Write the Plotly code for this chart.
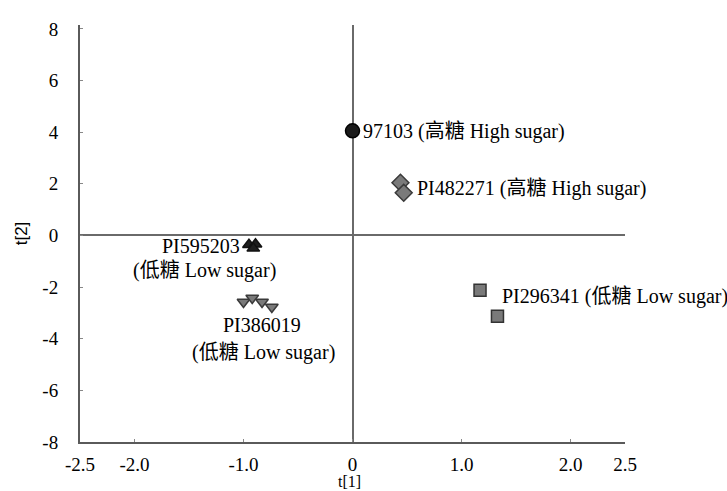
import plotly.graph_objects as go

# ---- data ----
t1_97103 = [0.0]
t2_97103 = [4.05]
t1_PI482271 = [0.44, 0.47]
t2_PI482271 = [2.04, 1.65]
t1_PI296341 = [1.17, 1.33]
t2_PI296341 = [-2.12, -3.13]
t1_PI595203 = [-0.95, -0.89, -0.91]
t2_PI595203 = [-0.36, -0.34, -0.50]
t1_PI386019 = [-1.00, -0.92, -0.83, -0.74]
t2_PI386019 = [-2.58, -2.42, -2.58, -2.77]

x_ticks = [-2.5, -2.0, -1.0, 0, 1.0, 2.0, 2.5]
x_tick_labels = ["-2.5", "-2.0", "-1.0", "0", "1.0", "2.0", "2.5"]
y_ticks = [-8, -6, -4, -2, 0, 2, 4, 6, 8]
y_tick_labels = ["-8", "-6", "-4", "-2", "0", "2", "4", "6", "8"]

SERIF = "Liberation Serif, Times New Roman, Noto Sans CJK SC, serif"
LABEL_SIZE = 20
TICK_SIZE = 19

fig = go.Figure()

def add(xs, ys, symbol, fill, line, size):
    fig.add_trace(go.Scatter(
        x=xs, y=ys, mode="markers",
        marker=dict(symbol=symbol, size=size, color=fill,
                    line=dict(color=line, width=1.5)),
        showlegend=False, hoverinfo="skip"))

add(t1_97103, t2_97103, "circle", "#1a1a1a", "#000000", 14)
add(t1_PI482271, t2_PI482271, "diamond", "#7a7a7a", "#3a3a3a", 13)
add(t1_PI296341, t2_PI296341, "square", "#7a7a7a", "#333333", 12)
add(t1_PI595203, t2_PI595203, "triangle-up", "#1e1e1e", "#111111", 11)
add(t1_PI386019, t2_PI386019, "triangle-down", "#7a7a7a", "#3a3a3a", 11)

def label(x, y, text, xanchor, xshift, yshift):
    fig.add_annotation(x=x, y=y, xref="x", yref="y", text=text,
                       showarrow=False, xanchor=xanchor, yanchor="middle",
                       xshift=xshift, yshift=yshift,
                       font=dict(family=SERIF, size=LABEL_SIZE, color="#000000"))

label(t1_97103[0], t2_97103[0], "97103 (高糖 High sugar)", "left", 8, -1)
label(t1_PI482271[0], t2_PI482271[0], "PI482271 (高糖 High sugar)", "left", 15, -6)
label(t1_PI296341[0], t2_PI296341[0], "PI296341 (低糖 Low sugar)", "left", 20, -6)
label(t1_PI595203[0], t2_PI595203[0], "PI595203", "center", -48, -1)
label(t1_PI595203[0], t2_PI595203[0], "(低糖 Low sugar)", "center", -44, -26)
label(t1_PI386019[0], t2_PI386019[0], "PI386019", "center", 18, -23)
label(t1_PI386019[0], t2_PI386019[0], "(低糖 Low sugar)", "center", 20, -50)

# x-axis title at the bottom edge, centred on x = 0
fig.add_annotation(x=0, y=0, xref="x", yref="paper", text="t[1]",
                   showarrow=False, xanchor="center", yanchor="bottom",
                   xshift=-3, yshift=-49, borderpad=0,
                   font=dict(family=SERIF, size=16, color="#000"))

fig.update_layout(
    width=727, height=491,
    margin=dict(l=80, r=102, t=25, b=49),
    paper_bgcolor="white", plot_bgcolor="white",
    xaxis=dict(range=[-2.5, 2.5], tickvals=x_ticks, ticktext=x_tick_labels,
               automargin=False,
               showgrid=False, zeroline=True, zerolinecolor="#6a6a6a", zerolinewidth=1.5,
               showline=True, linecolor="#5a5a5a", linewidth=2,
               ticks="inside", ticklen=3, tickcolor="#888888",
               ticklabelstandoff=4,
               tickfont=dict(family=SERIF, size=TICK_SIZE, color="#000")),
    yaxis=dict(range=[-8, 8.15], tickvals=y_ticks, ticktext=y_tick_labels,
               automargin=False,
               showgrid=False, zeroline=True, zerolinecolor="#6a6a6a", zerolinewidth=1.5,
               showline=True, linecolor="#5a5a5a", linewidth=2,
               ticks="inside", ticklen=3, tickcolor="#888888",
               ticklabelstandoff=16,
               tickfont=dict(family=SERIF, size=TICK_SIZE, color="#000"),
               title=dict(text="t[2]", font=dict(family="Liberation Sans, Arial, sans-serif", size=17, color="#000"), standoff=10)),
)

fig.write_html("out.html", config={"displayModeBar": False},
               post_script="document.body.style.margin='0';document.body.style.overflow='hidden';")
